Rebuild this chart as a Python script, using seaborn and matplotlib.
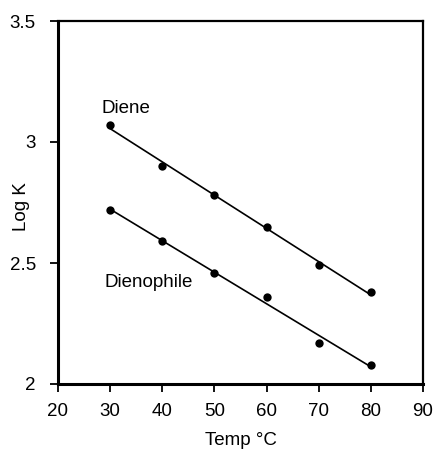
import matplotlib
matplotlib.use("Agg")
import matplotlib.pyplot as plt
import seaborn as sns
import pandas as pd

temps = [30, 40, 50, 60, 70, 80]
diene = [3.07, 2.90, 2.78, 2.65, 2.49, 2.38]
dienophile = [2.72, 2.59, 2.46, 2.36, 2.17, 2.08]
x_ticks = [20, 30, 40, 50, 60, 70, 80, 90]
y_ticks = [2, 2.5, 3, 3.5]
y_tick_labels = ["2", "2.5", "3", "3.5"]

sns.set_style("ticks")
plt.rcParams['font.family'] = ['Liberation Sans', 'DejaVu Sans']
plt.rcParams['text.color'] = 'black'
plt.rcParams['axes.labelcolor'] = 'black'
plt.rcParams['xtick.color'] = 'black'
plt.rcParams['ytick.color'] = 'black'

df = pd.DataFrame({"temp": temps, "diene": diene, "dienophile": dienophile})

fs = 13.5
fig = plt.figure(figsize=(4.39, 4.50), dpi=100)
ax = fig.add_axes([58/439, 1 - 384/450, (423-58)/439, (384-21)/450])

for col in ["diene", "dienophile"]:
    sns.regplot(data=df, x="temp", y=col, ax=ax, ci=None, color="black",
                scatter_kws={"s": 36, "linewidths": 0, "alpha": 1},
                line_kws={"linewidth": 1.2})

ax.text(28.3, 3.14, "Diene", fontsize=fs, va="center", ha="left")
ax.text(28.9, 2.42, "Dienophile", fontsize=fs, va="center", ha="left")

ax.set_xlim(20, 90)
ax.set_ylim(2, 3.5)
ax.set_xticks(x_ticks)
ax.set_yticks(y_ticks)
ax.set_yticklabels(y_tick_labels)
ax.set_xlabel("Temp °C", fontsize=fs, labelpad=8)
ax.set_ylabel("Log K", fontsize=fs)
ax.yaxis.set_label_coords(-0.077, 0.49)
ax.tick_params(axis="both", labelsize=fs, direction="out", length=6, width=1.3,
               color="black", labelcolor="black")
ax.tick_params(axis="y", pad=10)
ax.tick_params(axis="x", pad=8)

for side in ["left", "bottom"]:
    ax.spines[side].set_linewidth(2.2)
for side in ["top", "right"]:
    ax.spines[side].set_linewidth(1.6)
for s in ax.spines.values():
    s.set_color("black")
    s.set_visible(True)

fig.savefig("out.png", dpi=100)
